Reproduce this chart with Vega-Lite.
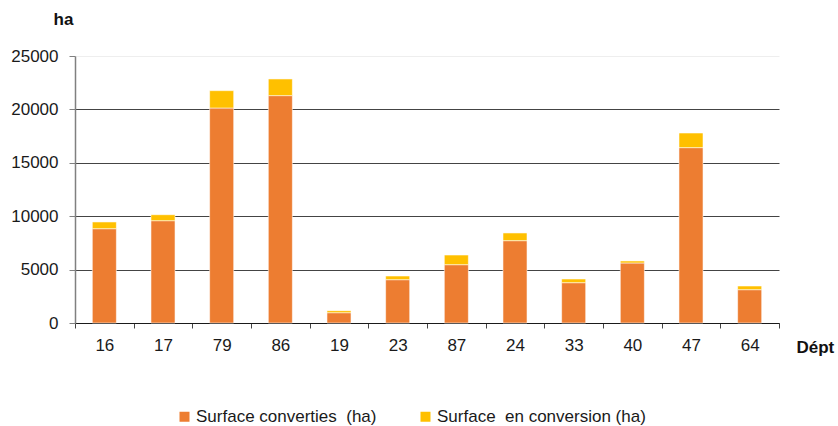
{
  "$schema": "https://vega.github.io/schema/vega-lite/v6.json",
  "width": 704,
  "height": 267,
  "autosize": {"type": "none"},
  "padding": {"left": 75, "top": 56, "right": 59, "bottom": 103},
  "background": "white",
  "config": {
    "view": {"stroke": null},
    "font": "Liberation Sans"
  },
  "data": {
    "values": [
      {"dept": "16", "serie": "Surface converties\u00a0 (ha)", "ordre": 1, "ha": 8830},
      {"dept": "16", "serie": "Surface\u00a0 en conversion (ha)", "ordre": 2, "ha": 630},
      {"dept": "17", "serie": "Surface converties\u00a0 (ha)", "ordre": 1, "ha": 9580},
      {"dept": "17", "serie": "Surface\u00a0 en conversion (ha)", "ordre": 2, "ha": 560},
      {"dept": "79", "serie": "Surface converties\u00a0 (ha)", "ordre": 1, "ha": 20130},
      {"dept": "79", "serie": "Surface\u00a0 en conversion (ha)", "ordre": 2, "ha": 1625},
      {"dept": "86", "serie": "Surface converties\u00a0 (ha)", "ordre": 1, "ha": 21290},
      {"dept": "86", "serie": "Surface\u00a0 en conversion (ha)", "ordre": 2, "ha": 1560},
      {"dept": "19", "serie": "Surface converties\u00a0 (ha)", "ordre": 1, "ha": 965},
      {"dept": "19", "serie": "Surface\u00a0 en conversion (ha)", "ordre": 2, "ha": 190},
      {"dept": "23", "serie": "Surface converties\u00a0 (ha)", "ordre": 1, "ha": 4055},
      {"dept": "23", "serie": "Surface\u00a0 en conversion (ha)", "ordre": 2, "ha": 345},
      {"dept": "87", "serie": "Surface converties\u00a0 (ha)", "ordre": 1, "ha": 5460},
      {"dept": "87", "serie": "Surface\u00a0 en conversion (ha)", "ordre": 2, "ha": 905},
      {"dept": "24", "serie": "Surface converties\u00a0 (ha)", "ordre": 1, "ha": 7710},
      {"dept": "24", "serie": "Surface\u00a0 en conversion (ha)", "ordre": 2, "ha": 720},
      {"dept": "33", "serie": "Surface converties\u00a0 (ha)", "ordre": 1, "ha": 3775},
      {"dept": "33", "serie": "Surface\u00a0 en conversion (ha)", "ordre": 2, "ha": 345},
      {"dept": "40", "serie": "Surface converties\u00a0 (ha)", "ordre": 1, "ha": 5620},
      {"dept": "40", "serie": "Surface\u00a0 en conversion (ha)", "ordre": 2, "ha": 190},
      {"dept": "47", "serie": "Surface converties\u00a0 (ha)", "ordre": 1, "ha": 16420},
      {"dept": "47", "serie": "Surface\u00a0 en conversion (ha)", "ordre": 2, "ha": 1370},
      {"dept": "64", "serie": "Surface converties\u00a0 (ha)", "ordre": 1, "ha": 3120},
      {"dept": "64", "serie": "Surface\u00a0 en conversion (ha)", "ordre": 2, "ha": 345}
    ]
  },
  "mark": {"type": "bar", "width": {"band": 0.41}, "stroke": "#ffffff", "strokeOpacity": 0.55, "strokeWidth": 1},
  "encoding": {
    "x": {
      "field": "dept",
      "type": "nominal",
      "sort": null,
      "scale": {"paddingInner": 0, "paddingOuter": 0},
      "axis": {
        "title": "Dépt",
        "titleFont": "Liberation Sans",
        "titleFontSize": 17,
        "titleFontWeight": "bold",
        "titleColor": "#111111",
        "titleAlign": "left",
        "titleBaseline": "alphabetic",
        "titleAnchor": null,
        "titleX": 721,
        "titleY": 29,
        "labelAngle": 0,
        "labelFont": "Liberation Sans",
        "labelFontSize": 17,
        "labelColor": "#1a1a1a",
        "labelPadding": 9,
        "domainColor": "#1a1a1a",
        "domainWidth": 1,
        "tickColor": "#444444",
        "tickSize": 5,
        "tickWidth": 1,
        "tickBand": "extent",
        "grid": false
      }
    },
    "y": {
      "field": "ha",
      "type": "quantitative",
      "stack": "zero",
      "scale": {"domain": [0, 25000], "nice": false},
      "axis": {
        "title": "ha",
        "titleFont": "Liberation Sans",
        "titleFontSize": 17,
        "titleFontWeight": "bold",
        "titleColor": "#111111",
        "titleAngle": 0,
        "titleAlign": "left",
        "titleBaseline": "alphabetic",
        "titleAnchor": null,
        "titleX": -22,
        "titleY": -32,
        "values": [0, 5000, 10000, 15000, 20000, 25000],
        "format": "d",
        "labelFont": "Liberation Sans",
        "labelFontSize": 17,
        "labelColor": "#1a1a1a",
        "labelPadding": 11,
        "domainColor": "#808080",
        "domainWidth": 1.5,
        "tickColor": "#808080",
        "tickSize": 6,
        "tickWidth": 1,
        "grid": true,
        "gridColor": {"condition": {"test": "datum.value == 25000", "value": "#eeeeee"}, "value": "#444444"},
        "gridWidth": 1
      }
    },
    "color": {
      "field": "serie",
      "type": "nominal",
      "scale": {
        "domain": ["Surface converties\u00a0 (ha)", "Surface\u00a0 en conversion (ha)"],
        "range": ["#ED7D31", "#FFC000"]
      },
      "legend": {
        "title": null,
        "orient": "none",
        "direction": "horizontal",
        "legendX": 101,
        "legendY": 352,
        "symbolType": "square",
        "symbolSize": 100,
        "symbolStrokeWidth": 0,
        "labelFont": "Liberation Sans",
        "labelFontSize": 17,
        "labelColor": "#1a1a1a",
        "labelLimit": 400,
        "labelOffset": 3,
        "columnPadding": 40
      }
    },
    "order": {"field": "ordre", "type": "quantitative"}
  }
}
